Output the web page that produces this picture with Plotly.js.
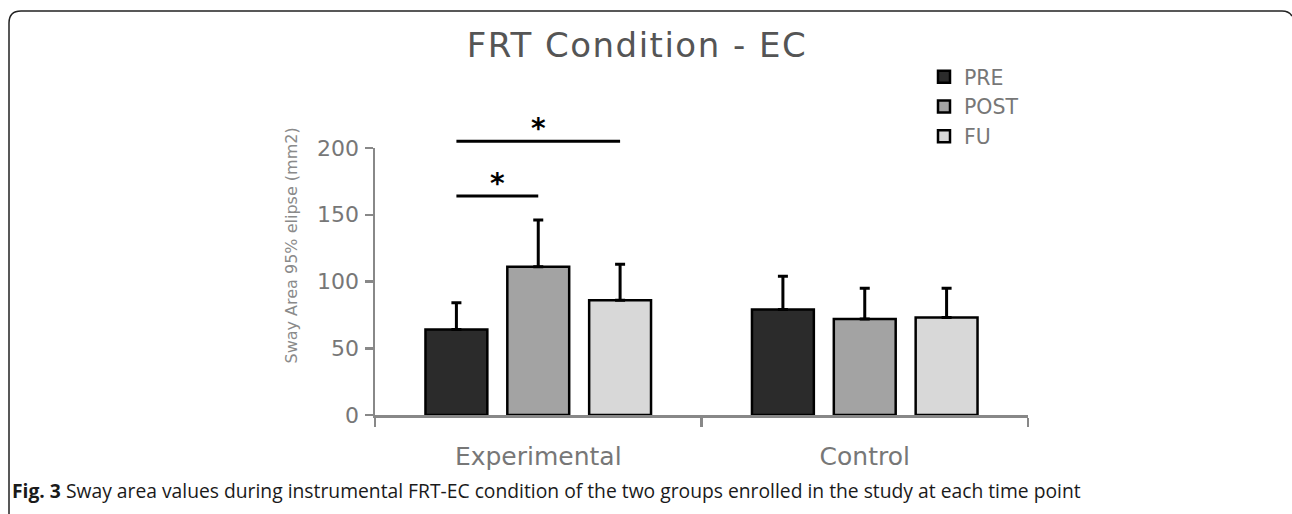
<!DOCTYPE html>
<html>
<head>
<meta charset="utf-8">
<script src="https://cdn.plot.ly/plotly-3.0.1.min.js"></script>
<style>
  html, body { margin: 0; padding: 0; background: #fff; }
  #chart { width: 1292px; height: 514px; }
</style>
</head>
<body>
<div id="chart"></div>
<script>
// ---- data ----
const groups = ["Experimental", "Control"];
const seriesNames = ["PRE", "POST", "FU"];
const preValues = [64, 79];
const postValues = [111, 72];
const fuValues = [86, 73];
const preErr = [20, 25];
const postErr = [35, 23];
const fuErr = [27, 22];
const yTicks = [0, 50, 100, 150, 200];
const sigPairs = [
  { group: 0, from: 0, to: 2, level: 205, label: "*" },
  { group: 0, from: 0, to: 1, level: 164, label: "*" }
];
const titleText = "FRT Condition - EC";
const yTitle = "Sway Area 95% elipse (mm2)";
const captionBold = "Fig. 3";
const captionText = " Sway area values during instrumental FRT-EC condition of the two groups enrolled in the study at each time point";

// ---- styling ----
const W = 1292, H = 514;
const M = { l: 375, r: 264, t: 148, b: 99 };
const plotW = W - M.l - M.r, plotH = H - M.t - M.b;
const yMax = 200;
const colors = ["#2b2b2b", "#a3a3a3", "#d8d8d8"];
const FONT = "'DejaVu Sans', sans-serif";
const bargap = 0.248, bargroupgap = 0.244;
const slot = (1 - bargap) / 3;

const values = [preValues, postValues, fuValues];
const errs = [preErr, postErr, fuErr];

const traces = seriesNames.map((name, i) => ({
  type: "bar",
  name: name,
  x: groups,
  y: values[i],
  marker: { color: colors[i], line: { color: "#000", width: 2.5 } },
  error_y: {
    type: "data", symmetric: false,
    array: errs[i], arrayminus: errs[i].map(() => 0),
    color: "#000", thickness: 3, width: 5
  },
  hoverinfo: "skip"
}));

const px = v => (v - M.l) / plotW;
const py = v => (H - M.b - v) / plotH;

const shapes = [];
const annotations = [];
sigPairs.forEach(s => {
  const x0 = s.group + (s.from - 1) * slot;
  const x1 = s.group + (s.to - 1) * slot;
  const yp = s.level / yMax;
  shapes.push({ type: "line", xref: "x", yref: "paper", x0: x0, x1: x1, y0: yp, y1: yp,
    line: { color: "#000", width: 3 } });
  annotations.push({ xref: "x", yref: "paper", x: (x0 + x1) / 2, y: yp, yanchor: "bottom",
    yshift: -6, text: "<b>" + s.label + "</b>", showarrow: false,
    font: { family: FONT, size: 28, color: "#000" } });
});

// frame (rounded corner top-left)
const r = 12;
shapes.push({
  type: "path", xref: "paper", yref: "paper",
  path: `M ${px(9)} ${py(H + 2)} L ${px(9)} ${py(11 + r)} Q ${px(9)} ${py(11)} ${px(9 + r)} ${py(11)} L ${px(1282)} ${py(11)} Q ${px(1289)} ${py(11)} ${px(1292)} ${py(16)}`,
  line: { color: "#222", width: 1.5 }
});

annotations.push({
  xref: "paper", yref: "paper", x: px(279), y: py(246), text: yTitle, textangle: -90,
  showarrow: false, font: { family: FONT, size: 16, color: "#8a8a8a" }
});
annotations.push({
  xref: "paper", yref: "paper", x: px(10), y: py(490), xanchor: "left", yanchor: "middle",
  text: "<b>" + captionBold + "</b>" + captionText, showarrow: false,
  font: { family: "'Open Sans', sans-serif", size: 19.3, color: "#1a1a1a" }
});

const layout = {
  width: W, height: H,
  margin: M,
  paper_bgcolor: "#fff", plot_bgcolor: "#fff",
  showlegend: true,
  legend: {
    x: px(924), y: py(57), xanchor: "left", yanchor: "top",
    font: { family: FONT, size: 20.5, color: "#777" },
    tracegroupgap: 0, itemwidth: 30, bgcolor: "rgba(0,0,0,0)"
  },
  title: {
    text: '<span style="letter-spacing:1.5px">' + titleText + '</span>',
    x: px(637), xref: "paper", xanchor: "center",
    y: (H - 45) / H, yanchor: "middle",
    font: { family: FONT, size: 34, color: "#555" }
  },
  barmode: "group", bargap: bargap, bargroupgap: bargroupgap,
  xaxis: {
    type: "category", range: [-0.5, 1.5],
    showline: true, linecolor: "#888", linewidth: 2.5,
    ticks: "outside", tickson: "boundaries", ticklen: 9, tickwidth: 2.5, tickcolor: "#888",
    tickfont: { family: FONT, size: 25, color: "#777" }, ticklabelstandoff: 17,
    showgrid: false, zeroline: false, fixedrange: true
  },
  yaxis: {
    range: [0, yMax], tickvals: yTicks,
    showline: true, linecolor: "#888", linewidth: 2.5,
    ticks: "outside", ticklen: 8, tickwidth: 2.5, tickcolor: "#888",
    tickfont: { family: FONT, size: 22, color: "#777" }, ticklabelstandoff: 1,
    showgrid: false, zeroline: false, fixedrange: true
  },
  shapes: shapes,
  annotations: annotations
};

Plotly.newPlot("chart", traces, layout, { displayModeBar: false, staticPlot: true });
</script>
</body>
</html>
